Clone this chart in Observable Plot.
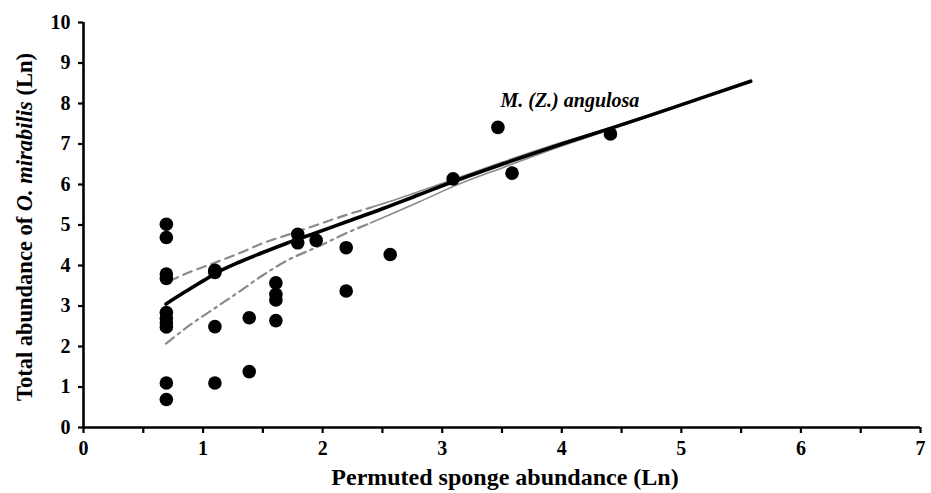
<!DOCTYPE html>
<html>
<head>
<meta charset="utf-8">
<script src="https://cdn.jsdelivr.net/npm/d3@7"></script>
<script src="https://cdn.jsdelivr.net/npm/@observablehq/plot@0.6"></script>
<style>
  html, body { margin: 0; padding: 0; background: #fff; }
  #chart { width: 931px; height: 493px; }
</style>
</head>
<body>
<div id="chart"></div>
<script>
// ---- Data (Ln scale) ----
const pointX = [
  0.693, 0.693, 0.693, 0.693, 0.693, 0.693, 0.693, 0.693, 0.693, 0.693,
  1.099, 1.099, 1.099, 1.099,
  1.386, 1.386,
  1.609, 1.609, 1.609, 1.609,
  1.792, 1.792,
  1.946,
  2.197, 2.197,
  2.565,
  3.091,
  3.466,
  3.584,
  4.407
];
const pointY = [
  5.02, 4.69, 3.79, 3.68, 2.84, 2.70, 2.58, 2.48, 1.10, 0.69,
  3.88, 3.83, 2.49, 1.10,
  2.71, 1.38,
  3.57, 3.29, 3.15, 2.64,
  4.77, 4.56,
  4.62,
  4.44, 3.37,
  4.27,
  6.14,
  7.41,
  6.28,
  7.25
];

// fitted curve
const fitX = [0.69, 0.85, 1.0, 1.1, 1.3, 1.5, 1.7, 1.9, 2.2, 2.5, 2.8, 3.1, 3.5, 4.0, 4.4, 4.75, 5.2, 5.58];
const fitY = [3.05, 3.35, 3.62, 3.80, 4.08, 4.32, 4.55, 4.76, 5.08, 5.40, 5.74, 6.08, 6.50, 7.00, 7.38, 7.72, 8.17, 8.55];

// upper bound (dashed then thin solid)
const upperX = [0.72, 0.9, 1.1, 1.3, 1.5, 1.7, 1.9, 2.2, 2.4, 2.6, 2.8, 3.1, 3.5, 4.0, 4.5, 5.0, 5.58];
const upperY = [3.62, 3.85, 4.07, 4.30, 4.55, 4.75, 4.95, 5.25, 5.43, 5.62, 5.82, 6.13, 6.55, 7.04, 7.48, 7.97, 8.55];

// lower bound (dash-dot then thin solid)
const lowerX = [0.69, 0.9, 1.1, 1.3, 1.5, 1.7, 1.95, 2.2, 2.4, 2.6, 2.8, 3.1, 3.5, 4.0, 4.5, 5.0, 5.58];
const lowerY = [2.07, 2.55, 2.95, 3.35, 3.76, 4.12, 4.45, 4.80, 5.05, 5.30, 5.56, 5.96, 6.41, 6.95, 7.45, 7.95, 8.55];

const xTickValues = [0, 0.5, 1, 1.5, 2, 2.5, 3, 3.5, 4, 4.5, 5, 5.5, 6, 6.5, 7];
const yTickValues = [0, 1, 2, 3, 4, 5, 6, 7, 8, 9, 10];

const annotation = [{x: 3.487, y: 7.91, label: "M. (Z.) angulosa"}];

// ---- Build tables ----
const points = pointX.map((x, i) => ({x, y: pointY[i]}));
const fit = fitX.map((x, i) => ({x, y: fitY[i]}));
const upper = upperX.map((x, i) => ({x, y: upperY[i]}));
const lower = lowerX.map((x, i) => ({x, y: lowerY[i]}));
const breakAt = 2.4;

const chart = Plot.plot({
  width: 931,
  height: 493,
  marginLeft: 83,
  marginRight: 11,
  marginTop: 22,
  marginBottom: 66,
  x: {domain: [0, 7]},
  y: {domain: [0, 10]},
  style: {
    fontFamily: "'Liberation Serif', 'Times New Roman', serif",
    fontWeight: "bold",
    fontSize: "20px",
    color: "#000",
    background: "#fff"
  },
  marks: [
    // confidence bounds
    Plot.line(upper.filter(d => d.x <= breakAt), {x: "x", y: "y", stroke: "#8a8a8a", strokeWidth: 2.2, strokeDasharray: "9,6", curve: "monotone-x"}),
    Plot.line(upper.filter(d => d.x >= breakAt), {x: "x", y: "y", stroke: "#8a8a8a", strokeWidth: 1.6, curve: "monotone-x"}),
    Plot.line(lower.filter(d => d.x <= breakAt), {x: "x", y: "y", stroke: "#8a8a8a", strokeWidth: 2.2, strokeDasharray: "10,5,2.5,5", curve: "monotone-x"}),
    Plot.line(lower.filter(d => d.x >= breakAt), {x: "x", y: "y", stroke: "#8a8a8a", strokeWidth: 1.6, curve: "monotone-x"}),
    // fitted curve
    Plot.line(fit, {x: "x", y: "y", stroke: "#000", strokeWidth: 3.6, curve: "monotone-x"}),
    // observations
    Plot.dot(points, {x: "x", y: "y", r: 6.8, fill: "#000", stroke: "none"}),
    // annotation
    Plot.text(annotation, {x: "x", y: "y", text: "label", textAnchor: "start", lineAnchor: "bottom",
      fontSize: 20, fontStyle: "italic", fontWeight: "bold", fill: "#000"}),
    // axes
    Plot.axisX({ticks: xTickValues, tickFormat: d => Number.isInteger(d) ? String(d) : "",
      tickSize: 6, tickPadding: 7, strokeWidth: 2.2, label: null, fontSize: 20}),
    Plot.axisY({ticks: yTickValues, tickFormat: d => String(d),
      tickSize: 5, tickPadding: 8, strokeWidth: 2.2, label: null, fontSize: 20}),
    Plot.ruleY([0], {strokeWidth: 2.6}),
    Plot.ruleX([0], {strokeWidth: 2.6})
  ]
});

document.getElementById("chart").appendChild(chart);

// axis titles (mixed italic needs tspans)
const svg = d3.select(chart);
const font = "'Liberation Serif', 'Times New Roman', serif";
svg.append("text")
  .attr("x", 505).attr("y", 485)
  .attr("text-anchor", "middle")
  .attr("font-family", font).attr("font-weight", "bold").attr("font-size", 24)
  .attr("fill", "#000")
  .text("Permuted sponge abundance (Ln)");

const yt = svg.append("text")
  .attr("transform", "translate(32,227) rotate(-90)")
  .attr("text-anchor", "middle")
  .attr("font-family", font).attr("font-weight", "bold").attr("font-size", 22.5)
  .attr("fill", "#000");
yt.append("tspan").text("Total abundance of ");
yt.append("tspan").attr("font-style", "italic").text("O. mirabilis");
yt.append("tspan").text(" (Ln)");
</script>
</body>
</html>
